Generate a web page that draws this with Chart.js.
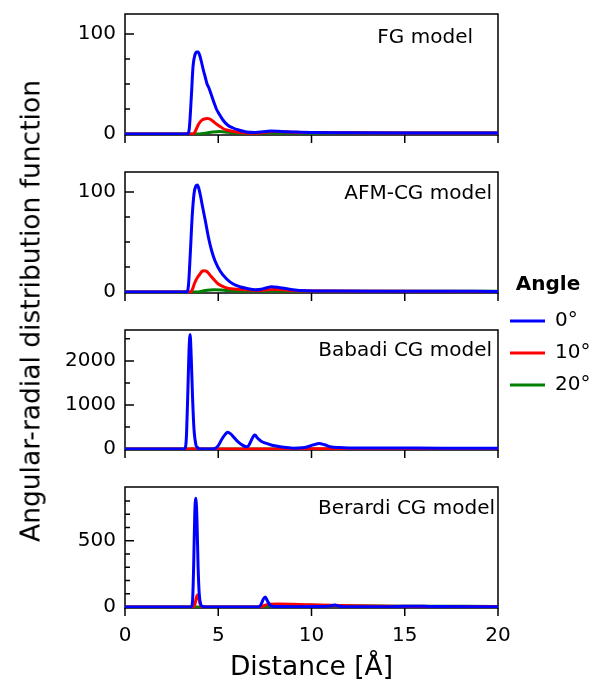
<!DOCTYPE html>
<html>
<head>
<meta charset="utf-8">
<title>Angular-radial distribution function</title>
<script src="https://cdn.jsdelivr.net/npm/chart.js@4.4.0/dist/chart.umd.min.js"></script>
<style>
  body { margin: 0; background: #fff; }
  #figure { position: relative; width: 598px; height: 687px; overflow: hidden; background: #fff; }
  #figure canvas { position: absolute; left: 0; }
  #yTitle {
    position: absolute; left: 30px; top: 311px;
    transform: translate(-50%, -50%) rotate(-90deg);
    font: 26.5px 'DejaVu Sans'; color: #000; white-space: nowrap;
  }
</style>
</head>
<body>
<div id="figure">
  <canvas id="panelFG" width="598" height="150" style="top:0px"></canvas>
  <canvas id="panelAFM" width="598" height="310" style="top:160px"></canvas>
  <canvas id="panelBabadi" width="598" height="145" style="top:320px"></canvas>
  <canvas id="panelBerardi" width="598" height="210" style="top:477px"></canvas>
  <div id="yTitle">Angular-radial distribution function</div>
</div>
<script>
// Shared axis data
const distTicks = [0, 5, 10, 15, 20];
const angleLabels = ['0°', '10°', '20°'];

// FG model
const fgDist0 = [0, 3.35, 3.45, 3.55, 3.65, 3.75, 3.85, 3.92, 4.0, 4.1, 4.2, 4.3, 4.4, 4.5, 4.65, 4.8, 4.9, 5.05, 5.25, 5.5, 5.8, 6.1, 6.5, 7.0, 7.4, 7.8, 8.2, 8.6, 9.2, 10, 12, 15, 20];
const fgAdf0 = [0, 0, 6, 35, 68, 79, 82, 82, 79, 72, 64, 57, 50, 46, 38, 30, 25, 20, 14, 9, 6, 4, 2, 1.5, 2.2, 3, 2.8, 2.3, 2, 1.6, 1.3, 1.1, 1];
const fgDist10 = [0, 3.65, 3.75, 3.85, 3.95, 4.1, 4.25, 4.4, 4.55, 4.7, 4.9, 5.1, 5.3, 5.5, 5.9, 6.4, 7.0, 7.5, 8.0, 8.5, 9.0, 10, 12, 15, 20];
const fgAdf10 = [0, 0, 2, 6, 10, 13.5, 15, 15.5, 15, 13, 10, 7.5, 5, 3.8, 2.2, 1, 0.8, 1.8, 2.5, 2.2, 1.8, 1.5, 1.2, 1, 1];
const fgDist20 = [0, 4.0, 4.3, 4.7, 5.1, 5.5, 6.0, 7.0, 8.0, 10, 15, 20];
const fgAdf20 = [0, 0, 0.8, 2, 2.5, 1.8, 1, 0.8, 1, 1, 1, 1];

// AFM-CG model
const afmDist0 = [0, 3.3, 3.4, 3.5, 3.6, 3.7, 3.8, 3.88, 3.95, 4.05, 4.15, 4.3, 4.47, 4.65, 4.83, 5.1, 5.45, 5.8, 6.2, 6.5, 7.0, 7.3, 7.6, 7.86, 8.3, 9.0, 9.7, 11, 14, 20];
const afmAdf0 = [0, 0, 6, 38, 75, 98, 106, 107, 104, 96, 86, 72, 55, 41, 31, 21, 13, 8, 5, 3.7, 2.3, 2.8, 4.3, 5.3, 4.3, 2.3, 1.3, 1, 0.8, 0.6];
const afmDist10 = [0, 3.5, 3.6, 3.75, 3.9, 4.02, 4.12, 4.23, 4.35, 4.47, 4.6, 4.74, 5.0, 5.36, 5.8, 6.5, 7.0, 7.5, 8.0, 8.5, 9.0, 10, 14, 20];
const afmAdf10 = [0, 0, 2, 9.7, 15, 18, 20.5, 21.3, 20.8, 19, 16, 13, 8, 4.7, 3, 2.3, 1.5, 2, 2.5, 2.2, 1.5, 1, 0.7, 0.5];
const afmDist20 = [0, 3.9, 4.3, 4.8, 5.3, 6.0, 8.0, 10, 20];
const afmAdf20 = [0, 0, 1.5, 2.2, 1.8, 1, 1, 0.8, 0.8];

// Babadi CG model
const babDist0 = [0, 3.15, 3.25, 3.3, 3.37, 3.43, 3.49, 3.55, 3.62, 3.7, 3.8, 3.9, 4.0, 4.6, 4.8, 5.0, 5.2, 5.4, 5.5, 5.65, 5.85, 6.05, 6.3, 6.5, 6.6, 6.75, 6.9, 6.97, 7.1, 7.3, 7.5, 7.8, 8.1, 8.5, 9.0, 9.5, 9.8, 10.1, 10.4, 10.7, 11.0, 11.5, 12, 14, 17, 20];
const babAdf0 = [0, 0, 60, 350, 1300, 2200, 2600, 2100, 1200, 450, 100, 30, 0, 0, 10, 80, 230, 350, 380, 350, 260, 170, 90, 55, 65, 180, 300, 320, 250, 180, 140, 100, 70, 40, 22, 30, 55, 95, 130, 100, 55, 35, 28, 25, 22, 20];
const babDist10 = [0, 3.4, 3.6, 3.8, 5.5, 7, 10, 20];
const babAdf10 = [0, 0, 8, 0, 5, 5, 6, 5];
const babDist20 = [0, 5, 20];
const babAdf20 = [0, 2, 2];

// Berardi CG model
const berDist0 = [0, 3.55, 3.62, 3.68, 3.74, 3.8, 3.86, 3.92, 3.98, 4.05, 4.15, 4.3, 7.15, 7.3, 7.42, 7.52, 7.62, 7.75, 7.9, 8.2, 9, 10.5, 11.0, 11.25, 11.5, 12, 14, 15, 15.5, 16.5, 20];
const berAdf0 = [0, 0, 40, 300, 700, 820, 650, 300, 100, 25, 5, 0, 0, 20, 60, 75, 50, 18, 5, 3, 2, 3, 8, 15, 6, 2, 2, 5, 6, 3, 2];
const berDist10 = [0, 3.65, 3.75, 3.82, 3.88, 3.95, 4.02, 4.12, 7.3, 7.45, 7.7, 8.2, 9, 10, 11, 12, 14, 17, 20];
const berAdf10 = [0, 0, 20, 65, 90, 70, 25, 0, 0, 10, 20, 22, 20, 16, 12, 9, 6, 4, 3];
const berDist20 = [0, 7.4, 7.7, 8.5, 10, 12, 15, 20];
const berAdf20 = [0, 0, 8, 14, 13, 9, 6, 4];

// Y tick values per panel
const fgMajor = [0, 100], fgMinor = [25, 50, 75];
const afmMajor = [0, 100], afmMinor = [25, 50, 75];
const babMajor = [0, 1000, 2000], babMinor = [500, 1500, 2500];
const berMajor = [0, 500], berMinor = [100, 200, 300, 400, 600, 700, 800];

// Styling
const FONT = 'DejaVu Sans';
const angleColors = ['#0000ff', '#ff0000', '#008000'];
Chart.defaults.font.family = FONT;
Chart.defaults.color = '#000';

// Panel layout (chart area: x 125..498, 121 px tall)
const panels = [
    { id: 'panelFG', label: 'FG model', labelRight: 25, labelTop: 24, padTop: 14, xAxisH: 15,
      yMin: -1, yMax: 120, major: fgMajor, minor: fgMinor,
      series: [[fgDist0, fgAdf0], [fgDist10, fgAdf10], [fgDist20, fgAdf20]] },
    { id: 'panelAFM', label: 'AFM-CG model', labelRight: 6, labelTop: 22, padTop: 12, xAxisH: 177,
      yMin: -1, yMax: 120, major: afmMajor, minor: afmMinor, legend: true,
      series: [[afmDist0, afmAdf0], [afmDist10, afmAdf10], [afmDist20, afmAdf20]] },
    { id: 'panelBabadi', label: 'Babadi CG model', labelRight: 6, labelTop: 21, padTop: 10, xAxisH: 15,
      yMin: -20, yMax: 2700, major: babMajor, minor: babMinor,
      series: [[babDist0, babAdf0], [babDist10, babAdf10], [babDist20, babAdf20]] },
    { id: 'panelBerardi', label: 'Berardi CG model', labelRight: 3, labelTop: 22, padTop: 10, xAxisH: 79,
      yMin: -8, yMax: 905, major: berMajor, minor: berMinor, showX: true,
      series: [[berDist0, berAdf0], [berDist10, berAdf10], [berDist20, berAdf20]] }
];

function toPoints(xs, ys) {
    return xs.map((x, i) => ({ x: x, y: ys[i] }));
}

// Remove the label overflow padding so every chart area lands where the layout says
function noScalePadding(s) {
    s.paddingTop = 0;
    s.paddingBottom = 0;
    s.paddingLeft = 0;
    s.paddingRight = 0;
}

// Frame, inward y ticks, outward x ticks and the model label
const panelDecor = {
    id: 'panelDecor',
    beforeDatasetsDraw(chart, args, opts) {
        const { ctx, chartArea: a, scales } = chart;
        ctx.save();
        ctx.strokeStyle = '#000';
        ctx.lineWidth = 1.5;
        ctx.strokeRect(a.left, a.top, a.right - a.left, a.bottom - a.top);
        ctx.beginPath();
        opts.major.forEach(v => {
            const y = scales.y.getPixelForValue(v);
            ctx.moveTo(a.left, y); ctx.lineTo(a.left + 9, y);
        });
        opts.minor.forEach(v => {
            const y = scales.y.getPixelForValue(v);
            ctx.moveTo(a.left, y); ctx.lineTo(a.left + 5, y);
        });
        distTicks.forEach(v => {
            const x = scales.x.getPixelForValue(v);
            ctx.moveTo(x, a.bottom); ctx.lineTo(x, a.bottom + 8);
        });
        ctx.stroke();
        ctx.restore();
    },
    afterDatasetsDraw(chart, args, opts) {
        const { ctx, chartArea: a } = chart;
        ctx.save();
        ctx.font = '20px "' + FONT + '"';
        ctx.fillStyle = '#000';
        ctx.textAlign = 'right';
        ctx.textBaseline = 'middle';
        ctx.fillText(opts.text, a.right - opts.right, a.top + opts.top);
        ctx.restore();
    }
};

function makePanel(p) {
    const datasets = p.series.map((s, i) => ({
        label: angleLabels[i],
        data: toPoints(s[0], s[1]),
        borderColor: angleColors[i],
        backgroundColor: angleColors[i],
        borderWidth: 3,
        pointRadius: 0,
        cubicInterpolationMode: 'monotone',
        fill: false
    }));

    return new Chart(document.getElementById(p.id), {
        type: 'line',
        data: { datasets: datasets },
        options: {
            responsive: false,
            animation: false,
            devicePixelRatio: 1,
            layout: { autoPadding: false, padding: { top: p.padTop, right: p.legend ? 0 : 100, bottom: 0, left: 0 } },
            scales: {
                x: {
                    type: 'linear', min: 0, max: 20,
                    afterBuildTicks: s => { s.ticks = distTicks.map(v => ({ value: v })); },
                    afterFit: s => { s.height = p.xAxisH; noScalePadding(s); },
                    grid: { display: false, drawTicks: false },
                    border: { display: false },
                    ticks: { display: !!p.showX, font: { size: 20 }, color: '#000', padding: 16,
                             maxRotation: 0, autoSkip: false, callback: v => String(v) },
                    title: { display: !!p.showX, text: 'Distance [Å]', font: { size: 26.5 }, color: '#000',
                             padding: { top: 0, bottom: 3 } }
                },
                y: {
                    type: 'linear', min: p.yMin, max: p.yMax,
                    afterBuildTicks: s => { s.ticks = p.major.map(v => ({ value: v })); },
                    afterFit: s => { s.width = 125; noScalePadding(s); },
                    grid: { display: false, drawTicks: false },
                    border: { display: false },
                    ticks: { font: { size: 20 }, color: '#000', padding: 9, callback: v => String(v) }
                }
            },
            plugins: {
                legend: {
                    display: !!p.legend,
                    position: 'right',
                    align: 'start',
                    maxWidth: 100,
                    title: { display: true, text: 'Angle', color: '#000',
                             font: { size: 20, weight: 'bold' }, padding: { top: 103, bottom: 0 } },
                    labels: { usePointStyle: true, pointStyle: 'line', pointStyleWidth: 35,
                              font: { size: 20 }, color: '#000', padding: 12 }
                },
                tooltip: { enabled: false },
                panelDecor: { text: p.label, right: p.labelRight, top: p.labelTop, major: p.major, minor: p.minor }
            }
        },
        plugins: [panelDecor]
    });
}

const charts = panels.map(makePanel);
</script>
</body>
</html>
